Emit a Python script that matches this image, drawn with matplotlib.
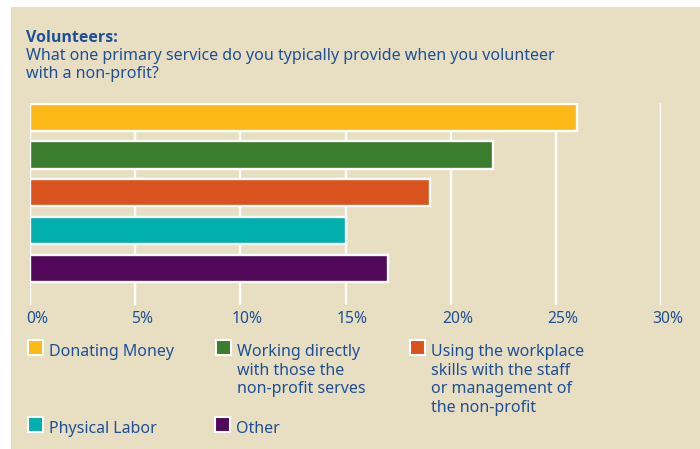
import matplotlib
matplotlib.use("Agg")
import matplotlib.pyplot as plt
import matplotlib.transforms as mtransforms
from matplotlib.patches import Rectangle

# Survey answers (share of respondents, %)
categories = [
    "Donating Money",
    "Working directly\nwith those the\nnon-profit serves",
    "Using the workplace\nskills with the staff\nor management of\nthe non-profit",
    "Physical Labor",
    "Other",
]
values = [26, 22, 19, 15, 17]
colors = ["#fbb817", "#3a7d2e", "#d9531e", "#00afae", "#52085a"]
tick_values = [0, 5, 10, 15, 20, 25, 30]
tick_labels = ["0%", "5%", "10%", "15%", "20%", "25%", "30%"]

title = "Volunteers:"
subtitle = "What one primary service do you typically provide when you volunteer\nwith a non-profit?"

BG = "#e8dfc2"
BLUE = "#1d4f98"
FONT = "Noto Sans"
BOLD_FONT = "Open Sans"

W, H = 700, 449
fig = plt.figure(figsize=(W / 100, H / 100), dpi=100)
fig.patch.set_facecolor("white")

# beige panel behind everything
fig.patches.append(Rectangle((11 / W, 0), 1 - 11 / W, 1 - 7 / H,
                             transform=fig.transFigure, facecolor=BG,
                             edgecolor="none", zorder=-10))


def fx(px):
    return px / W


def fy(py):
    return 1 - py / H


def lines_at(x, y_first, text, step, **kw):
    """Draw a multi-line string with each line on its own baseline."""
    for i, line in enumerate(text.split("\n")):
        fig.text(fx(x), fy(y_first + i * step), line, va="baseline",
                 ha="left", family=FONT, color=BLUE, **kw)


fig.text(fx(26), fy(42), title, fontsize=11.5, fontweight="bold",
         color=BLUE, family=BOLD_FONT, va="baseline", ha="left")
lines_at(26, 59.5, subtitle, 18, fontsize=11.55)

# bar axes
ax_left, ax_right, ax_top, ax_bottom = 30, 661, 103, 305
ax = fig.add_axes([fx(ax_left), fy(ax_bottom), (ax_right - ax_left) / W,
                   (ax_bottom - ax_top) / H])
ax.set_facecolor("none")
ypos = list(range(len(values)))
ax.barh(ypos, values, height=0.715, color=colors, edgecolor="white",
        linewidth=1.7, zorder=3)
ax.set_xlim(0, 30)
ax.set_ylim(4.97, -0.376)
ax.set_xticks(tick_values)
ax.set_xticklabels(tick_labels)
ax.set_yticks([])
ax.tick_params(axis="x", length=0, pad=4, labelsize=11.3, labelcolor=BLUE)
for lab in ax.get_xticklabels():
    lab.set_family(FONT)
    lab.set_transform(lab.get_transform() +
                      mtransforms.ScaledTranslation(7 / 100, 0, fig.dpi_scale_trans))
for s in ax.spines.values():
    s.set_visible(False)
for t in tick_values:
    ax.axvline(t, color="white", linewidth=1.7, zorder=1)

# legend
legend_pos = [(27, 356), (215, 356), (409, 356), (27, 433), (214, 433)]
sq = 15
for (x, yb), lab, c in zip(legend_pos, categories, colors):
    fig.patches.append(Rectangle((fx(x + 1), fy(yb - 1)), sq / W, sq / H,
                                 transform=fig.transFigure, facecolor=c,
                                 edgecolor="white", linewidth=1.5, zorder=2))
    lines_at(x + 22, yb, lab, 18.7, fontsize=11.5)

fig.savefig("out.png", dpi=100, facecolor=fig.get_facecolor())
